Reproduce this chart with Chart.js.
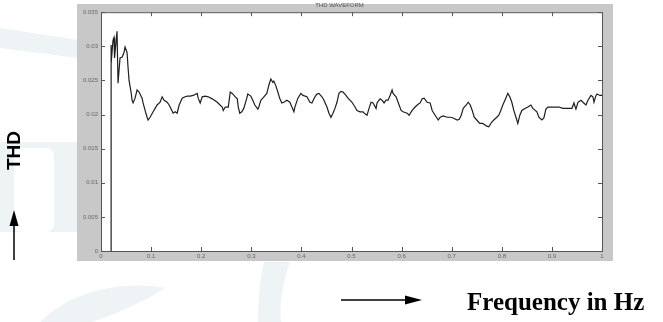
<!DOCTYPE html>
<html>
<head>
<meta charset="utf-8">
<script src="https://cdn.jsdelivr.net/npm/chart.js@4/dist/chart.umd.min.js"></script>
<style>
  html, body { margin: 0; padding: 0; background: #fff; }
  #wrap { position: relative; width: 663px; height: 322px; overflow: hidden; }
  #bg { position: absolute; left: 0; top: 0; }
  #chart { position: absolute; left: 0; top: 0; }
  .lbl { position: absolute; color: #000; font-weight: bold; white-space: nowrap; }
  #thd { left: -2px; top: 143px; font-family: "Liberation Sans", Arial, sans-serif; font-size: 19px;
         transform: rotate(-90deg); transform-origin: center; width: 32px; text-align: center; }
  #freq { left: 467px; top: 288px; font-family: "Liberation Serif", "Times New Roman", serif; font-size: 25px; }
  #arrows { position: absolute; left: 0; top: 0; }
</style>
</head>
<body>
<div id="wrap">
  <svg id="bg" width="663" height="322">
    <path d="M0 28 L78 40 L78 58 L0 48 Z" fill="#eef3f6"/>
    <path d="M0 142 L78 142 L78 232 L0 232 Z" fill="#eef3f6"/>
    <rect x="14" y="148" width="40" height="84" rx="8" fill="#fff"/>
    <path d="M40 322 C70 292 120 280 165 288 C145 302 110 316 92 322 Z" fill="#eef3f6"/>
    <path d="M264 262 L290 262 C282 285 279 305 281 322 L258 322 C258 300 260 280 264 262 Z" fill="#eef3f6"/>
  </svg>
  <canvas id="chart" width="663" height="322"></canvas>
  <svg id="arrows" width="663" height="322">
    <line x1="14" y1="260" x2="14" y2="222" stroke="#000" stroke-width="1.5"/>
    <polygon points="14,210 9.5,226 18.5,226" fill="#000"/>
    <line x1="341" y1="300" x2="408" y2="300" stroke="#000" stroke-width="1.5"/>
    <polygon points="422,300 405,295.5 405,304.5" fill="#000"/>
  </svg>
  <div class="lbl" id="thd">THD</div>
  <div class="lbl" id="freq">Frequency in Hz</div>
</div>
<script>
// frequency (Hz) and THD values
var freq = [0.020, 0.0201, 0.0203, 0.024, 0.026, 0.027, 0.032, 0.034, 0.038, 0.042,
    0.046, 0.048, 0.052, 0.054, 0.056, 0.060, 0.062, 0.064, 0.068, 0.072,
    0.076, 0.082, 0.084, 0.088, 0.092, 0.094, 0.098, 0.104, 0.108, 0.112,
    0.118, 0.122, 0.126, 0.132, 0.136, 0.140, 0.144, 0.148, 0.152, 0.156,
    0.162, 0.168, 0.172, 0.178, 0.184, 0.192, 0.194, 0.198, 0.202, 0.208,
    0.214, 0.222, 0.232, 0.242, 0.244, 0.248, 0.254, 0.258, 0.262, 0.268,
    0.272, 0.274, 0.277, 0.281, 0.285, 0.291, 0.293, 0.299, 0.303, 0.307,
    0.313, 0.315, 0.319, 0.323, 0.331, 0.335, 0.339, 0.343, 0.345, 0.349,
    0.353, 0.357, 0.361, 0.365, 0.371, 0.377, 0.381, 0.385, 0.387, 0.393,
    0.399, 0.403, 0.411, 0.417, 0.421, 0.427, 0.431, 0.435, 0.441, 0.445,
    0.451, 0.455, 0.459, 0.463, 0.467, 0.471, 0.475, 0.479, 0.483, 0.489,
    0.493, 0.501, 0.507, 0.511, 0.517, 0.523, 0.527, 0.531, 0.535, 0.539,
    0.543, 0.549, 0.551, 0.557, 0.561, 0.565, 0.569, 0.573, 0.577, 0.581,
    0.583, 0.589, 0.593, 0.599, 0.603, 0.611, 0.615, 0.621, 0.627, 0.633,
    0.637, 0.641, 0.645, 0.651, 0.657, 0.661, 0.667, 0.673, 0.677, 0.683,
    0.691, 0.697, 0.703, 0.711, 0.715, 0.719, 0.723, 0.729, 0.733, 0.737,
    0.741, 0.745, 0.750, 0.756, 0.762, 0.770, 0.774, 0.780, 0.784, 0.790,
    0.794, 0.798, 0.802, 0.808, 0.812, 0.816, 0.820, 0.824, 0.830, 0.832,
    0.836, 0.840, 0.846, 0.852, 0.858, 0.862, 0.870, 0.874, 0.880, 0.884,
    0.888, 0.892, 0.900, 0.908, 0.914, 0.922, 0.930, 0.940, 0.944, 0.948,
    0.952, 0.958, 0.962, 0.968, 0.972, 0.978, 0.982, 0.984, 0.988, 0.990,
    0.996, 1.000];
var thd = [0, 0.0302, 0.0275, 0.0309, 0.0313, 0.0283, 0.0322, 0.0246, 0.0283, 0.0284,
    0.0291, 0.0299, 0.0291, 0.0269, 0.0250, 0.0233, 0.0221, 0.0217, 0.0224, 0.0236,
    0.0233, 0.0224, 0.0217, 0.0206, 0.0196, 0.0192, 0.0196, 0.0204, 0.0209, 0.0214,
    0.0218, 0.0226, 0.0221, 0.0218, 0.0214, 0.0208, 0.0202, 0.0204, 0.0202, 0.0214,
    0.0224, 0.0226, 0.0227, 0.0227, 0.0228, 0.0231, 0.0224, 0.0217, 0.0226, 0.0227,
    0.0226, 0.0223, 0.0218, 0.0211, 0.0206, 0.0211, 0.0211, 0.0233, 0.0231, 0.0226,
    0.0223, 0.0211, 0.0202, 0.0204, 0.0209, 0.0224, 0.0230, 0.0227, 0.0221, 0.0214,
    0.0208, 0.0211, 0.0221, 0.0224, 0.0231, 0.0243, 0.0252, 0.0247, 0.0249, 0.0242,
    0.0233, 0.0223, 0.0217, 0.0218, 0.0221, 0.0218, 0.0211, 0.0204, 0.0211, 0.0224,
    0.0231, 0.0228, 0.0226, 0.0218, 0.0217, 0.0226, 0.0230, 0.0231, 0.0226, 0.0221,
    0.0211, 0.0202, 0.0196, 0.0202, 0.0209, 0.0218, 0.0231, 0.0234, 0.0233, 0.0228,
    0.0224, 0.0218, 0.0211, 0.0206, 0.0204, 0.0204, 0.0201, 0.0199, 0.0209, 0.0218,
    0.0217, 0.0209, 0.0217, 0.0223, 0.0221, 0.0217, 0.0221, 0.0221, 0.0228, 0.0236,
    0.0231, 0.0226, 0.0218, 0.0206, 0.0204, 0.0202, 0.0199, 0.0206, 0.0211, 0.0215,
    0.0217, 0.0223, 0.0224, 0.0218, 0.0217, 0.0206, 0.0199, 0.0192, 0.0196, 0.0198,
    0.0196, 0.0196, 0.0195, 0.0192, 0.0193, 0.0199, 0.0209, 0.0214, 0.0218, 0.0214,
    0.0206, 0.0196, 0.0192, 0.0187, 0.0187, 0.0183, 0.0182, 0.0189, 0.0192, 0.0196,
    0.0199, 0.0206, 0.0214, 0.0224, 0.0231, 0.0226, 0.0218, 0.0206, 0.0192, 0.0187,
    0.0199, 0.0206, 0.0209, 0.0211, 0.0214, 0.0209, 0.0204, 0.0196, 0.0192, 0.0195,
    0.0208, 0.0211, 0.0211, 0.0211, 0.0211, 0.0209, 0.0209, 0.0209, 0.0217, 0.0208,
    0.0218, 0.0221, 0.0218, 0.0214, 0.0221, 0.0228, 0.0226, 0.0218, 0.0228, 0.0230,
    0.0228, 0.0228];
var xTicks = [0, 0.1, 0.2, 0.3, 0.4, 0.5, 0.6, 0.7, 0.8, 0.9, 1];
var yTicks = [0, 0.005, 0.01, 0.015, 0.02, 0.025, 0.03, 0.035];

var points = freq.map(function(f, i) { return { x: f, y: thd[i] }; });

// grey matlab figure frame + boxed axes with inward ticks
var matlabFrame = {
    id: 'matlabFrame',
    beforeDraw: function(chart) {
        var c = chart.ctx, a = chart.chartArea;
        c.save();
        c.fillStyle = '#c8c8c8';
        c.fillRect(a.left - 24, 4, a.right - a.left + 35, a.bottom + 10 - 4);
        c.fillStyle = '#fff';
        c.fillRect(a.left, a.top, a.right - a.left, a.bottom - a.top);
        c.restore();
    },
    afterDraw: function(chart) {
        var c = chart.ctx, a = chart.chartArea;
        var xs = chart.scales.x, ys = chart.scales.y;
        c.save();
        c.strokeStyle = '#555';
        c.lineWidth = 1;
        c.strokeRect(a.left + 0.5, a.top + 0.5, a.right - a.left, a.bottom - a.top);
        c.beginPath();
        xTicks.forEach(function(v) {
            var px = Math.round(xs.getPixelForValue(v)) + 0.5;
            c.moveTo(px, a.bottom); c.lineTo(px, a.bottom - 4);
            c.moveTo(px, a.top); c.lineTo(px, a.top + 4);
        });
        yTicks.forEach(function(v) {
            var py = Math.round(ys.getPixelForValue(v)) + 0.5;
            c.moveTo(a.left, py); c.lineTo(a.left + 4, py);
            c.moveTo(a.right, py); c.lineTo(a.right - 4, py);
        });
        c.stroke();
        c.restore();
    }
};

var ctx = document.getElementById('chart').getContext('2d');
var thdChart = new Chart(ctx, {
    type: 'line',
    data: {
        datasets: [{
            label: 'THD',
            data: points,
            borderColor: '#1e1e1e',
            borderWidth: 1.2,
            pointRadius: 0,
            tension: 0
        }]
    },
    options: {
        responsive: false,
        animation: false,
        layout: { padding: { left: 77, right: 61, top: 0, bottom: 61 } },
        plugins: {
            legend: { display: false },
            tooltip: { enabled: false },
            title: {
                display: true,
                text: 'THD WAVEFORM',
                color: '#555',
                font: { family: 'Liberation Sans', size: 6, weight: 'normal' },
                padding: { top: 2, bottom: 3 }
            }
        },
        scales: {
            x: {
                type: 'linear',
                min: 0, max: 1,
                afterFit: function(s) { s.height = 10; },
                afterBuildTicks: function(s) { s.ticks = xTicks.map(function(v) { return { value: v }; }); },
                grid: { display: false, drawTicks: false },
                border: { display: false },
                ticks: {
                    padding: 2,
                    color: '#666',
                    font: { family: 'Liberation Sans', size: 6 },
                    maxRotation: 0,
                    callback: function(v) { return String(+v.toFixed(1)); }
                }
            },
            y: {
                min: 0, max: 0.035,
                afterFit: function(s) { s.width = 24; },
                afterBuildTicks: function(s) { s.ticks = yTicks.map(function(v) { return { value: v }; }); },
                grid: { display: false, drawTicks: false },
                border: { display: false },
                ticks: {
                    padding: 3,
                    color: '#666',
                    font: { family: 'Liberation Sans', size: 6 },
                    callback: function(v) { return String(+v.toFixed(3)); }
                }
            }
        }
    },
    plugins: [matlabFrame]
});
</script>
</body>
</html>
